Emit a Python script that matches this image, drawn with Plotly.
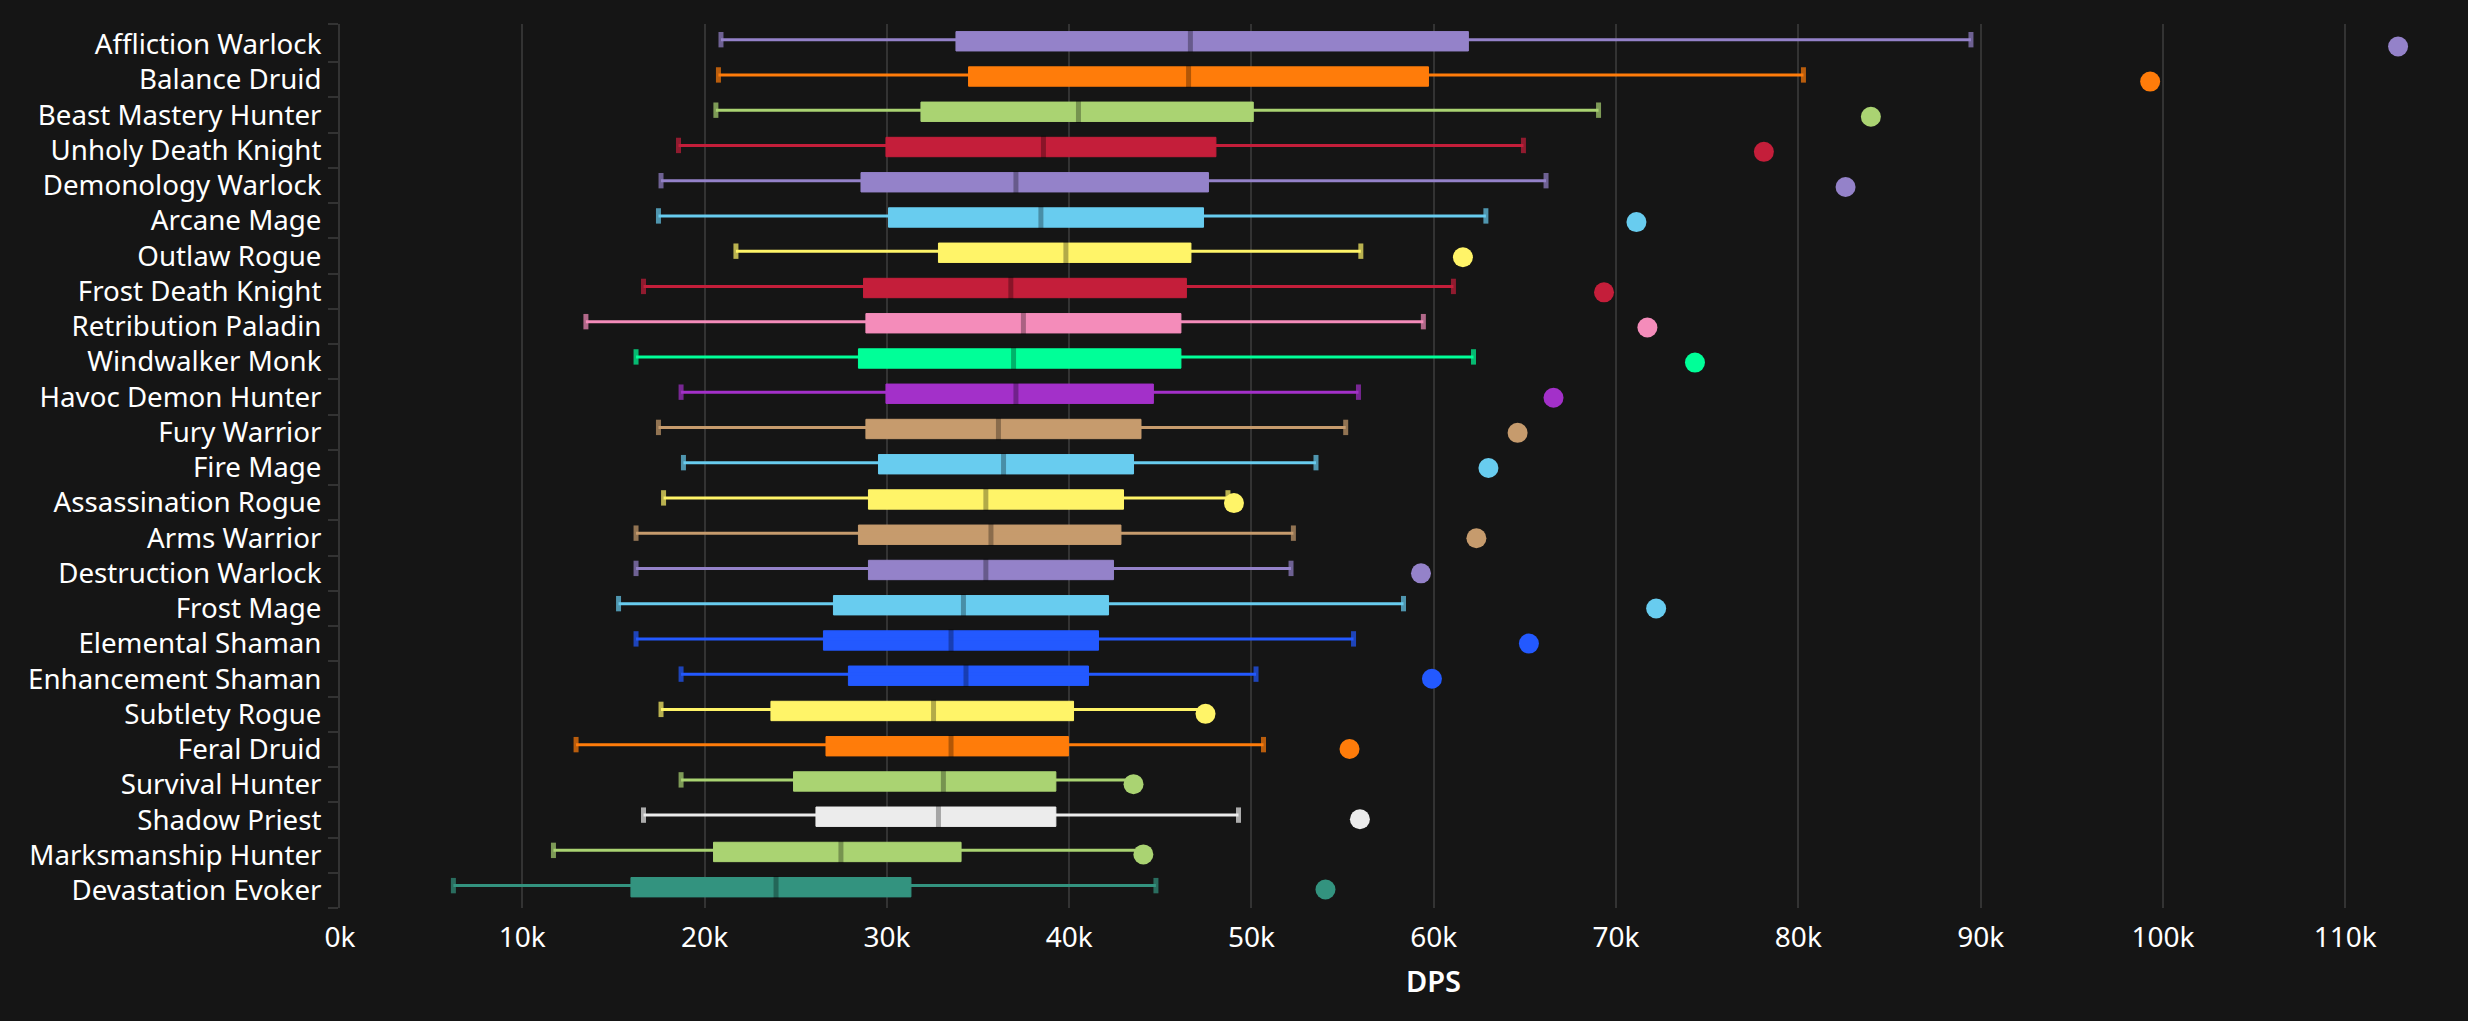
import plotly.graph_objects as go

specs = ["Affliction Warlock","Balance Druid","Beast Mastery Hunter","Unholy Death Knight","Demonology Warlock",
"Arcane Mage","Outlaw Rogue","Frost Death Knight","Retribution Paladin","Windwalker Monk","Havoc Demon Hunter",
"Fury Warrior","Fire Mage","Assassination Rogue","Arms Warrior","Destruction Warlock","Frost Mage","Elemental Shaman",
"Enhancement Shaman","Subtlety Rogue","Feral Druid","Survival Hunter","Shadow Priest","Marksmanship Hunter","Devastation Evoker"]
low = [20.9,20.76,20.62,18.57,17.61,17.47,21.72,16.65,13.49,16.24,18.71,17.47,18.84,17.75,16.24,16.24,15.28,16.24,18.71,17.61,12.95,18.71,16.65,11.71,6.22]
q1 = [33.79,34.48,31.87,29.95,28.58,30.09,32.83,28.72,28.85,28.44,29.95,28.85,29.54,28.99,28.44,28.99,27.07,26.52,27.89,23.64,26.66,24.88,26.11,20.49,15.96]
median = [46.65,46.55,40.51,38.59,37.08,38.45,39.82,36.8,37.49,36.95,37.08,36.12,36.4,35.43,35.71,35.43,34.2,33.52,34.34,32.56,33.52,33.1,32.83,27.48,23.92]
q3 = [61.9,59.71,50.1,48.05,47.64,47.37,46.68,46.43,46.13,46.13,44.62,43.94,43.53,42.98,42.84,42.43,42.16,41.61,41.06,40.24,39.96,39.27,39.27,34.07,31.32]
high = [89.47,80.28,69.04,64.92,66.16,62.86,56.0,61.08,59.43,62.18,55.87,55.17,53.54,48.71,52.3,52.17,58.34,55.6,50.25,47.48,50.66,43.53,49.29,44.07,44.76]
top = [112.9,99.3,83.98,78.11,82.59,71.12,61.6,69.34,71.72,74.33,66.57,64.6,63.0,49.04,62.34,59.3,72.2,65.22,59.9,47.48,55.38,43.53,55.95,44.07,54.06]
colors = ["#9482C9","#FF7C0A","#AAD372","#C41E3A","#9482C9","#68CCEF","#FFF468","#C41E3A","#F48CBA","#00FF98","#A330C9",
"#C69B6D","#68CCEF","#FFF468","#C69B6D","#9482C9","#68CCEF","#2359FF","#2359FF","#FFF468","#FF7C0A","#AAD372","#ECECEC","#AAD372","#33937F"]
ticks_k = list(range(0, 120, 10))

BG = "#151515"
FONT = "Noto Sans"
rows = list(range(len(specs)))
top_edge = -0.58
y_box = [r - 0.09 for r in rows]
y_wh = [r - 0.135 for r in rows]
y_dot = [r * 0.9966 + 0.057 for r in rows]

fig = go.Figure()
for r in rows:
    c = colors[r]
    # upper whisker cap is hidden when it coincides with the outlier dot
    hidden_cap = high[r] == top[r]
    fig.add_trace(go.Scatter(x=[low[r], high[r]], y=[y_wh[r]] * 2, mode="lines+markers",
                             line=dict(color=c, width=3), showlegend=False, hoverinfo="skip",
                             marker=dict(symbol="line-ns", size=[11, 0 if hidden_cap else 11], color=c, line=dict(color=c, width=5))))
    fig.add_trace(go.Bar(y=[y_box[r]], x=[q3[r] - q1[r]], base=[q1[r]], orientation="h", width=0.55,
                         marker=dict(color=c, line=dict(color=c, width=1)), showlegend=False, name=specs[r]))
    fig.add_trace(go.Scatter(x=[median[r]], y=[y_box[r]], mode="markers", showlegend=False, hoverinfo="skip",
                             marker=dict(symbol="line-ns", size=16, line=dict(color="rgba(0,0,0,0.3)", width=5))))
    fig.add_trace(go.Scatter(x=[top[r]], y=[y_dot[r]], mode="markers", showlegend=False,
                             marker=dict(symbol="circle", size=20, color=c, line=dict(width=0))))

fig.update_layout(
    width=2468, height=1021, autosize=False, paper_bgcolor=BG, plot_bgcolor=BG,
    margin=dict(l=340, r=28, t=24, b=113), barmode="overlay",
    font=dict(family=FONT, color="#FFFFFF", size=28),
    xaxis=dict(range=[0, 115.2], tickvals=ticks_k, ticktext=[f"{v}k" for v in ticks_k], ticks="outside", ticklen=4,
               tickcolor="rgba(0,0,0,0)", zeroline=False,
               showgrid=True, gridcolor="#333333", gridwidth=2, showline=False),
    yaxis=dict(range=[24.5, top_edge], tickvals=rows, ticktext=specs, ticks="outside", ticklen=11, tickfont=dict(size=27.7),
               tickcolor="rgba(0,0,0,0)", showgrid=False, zeroline=False, showline=True, linecolor="#333333", linewidth=2,
               minor=dict(tickvals=[top_edge] + [r + 0.5 for r in rows], ticks="outside", ticklen=10, tickwidth=2, tickcolor="#333333", showgrid=False)),
    annotations=[dict(text="DPS", x=60, xref="x", y=0, yref="paper", yanchor="middle", yshift=-72, showarrow=False,
                      font=dict(size=29, weight=600))],
)
fig.write_html("out.html", config=dict(displayModeBar=False),
               post_script="document.body.style.margin='0';document.body.style.background='#151515';document.documentElement.style.overflow='hidden';")
